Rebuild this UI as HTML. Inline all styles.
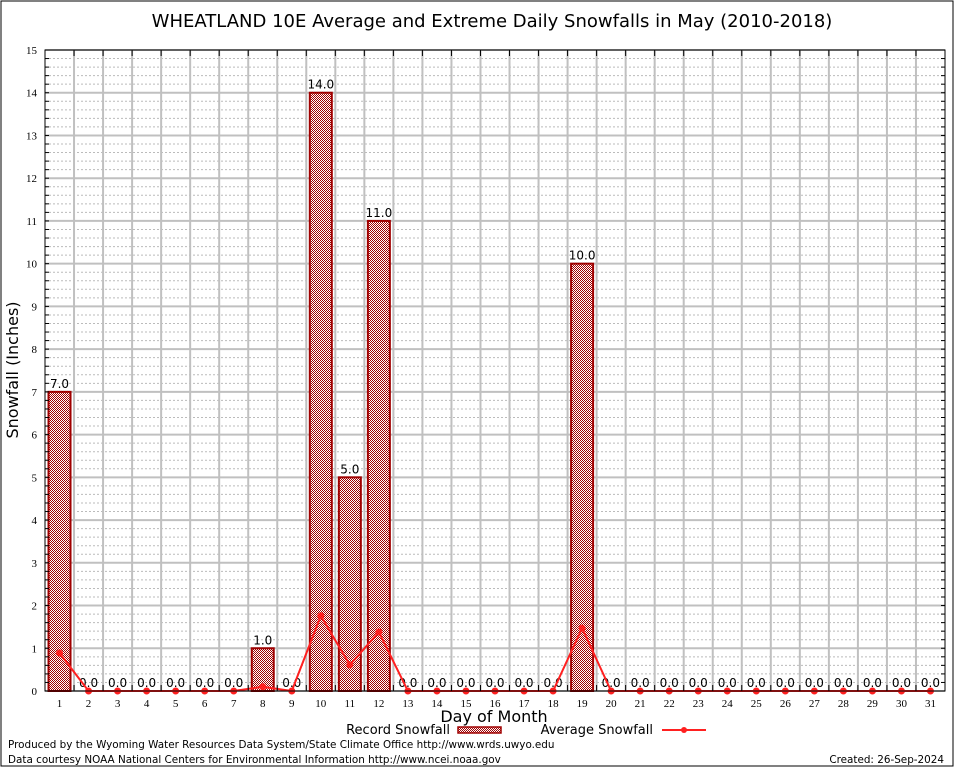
<!DOCTYPE html>
<html><head><meta charset="utf-8"><style>
html,body{margin:0;padding:0;background:#fff;width:954px;height:768px;overflow:hidden}
svg{display:block;font-family:"DejaVu Sans","Liberation Sans",sans-serif}
</style></head><body>
<svg id="chart" width="954" height="768">
<defs>
<pattern id="chk" width="2" height="2" patternUnits="userSpaceOnUse">
<rect width="2" height="2" fill="#fff"/><rect width="1" height="1" fill="#a00000"/><rect x="1" y="1" width="1" height="1" fill="#a00000"/>
</pattern>
</defs>
<rect x="1" y="1" width="952" height="765" fill="#fff" stroke="#000" stroke-width="1"/>
<text x="492" y="27" font-size="18" text-anchor="middle">WHEATLAND 10E Average and Extreme Daily Snowfalls in May (2010-2018)</text>
<g id="grid"></g>
<g id="bars"></g>
<g id="line"></g>
<g id="axes"></g>
<text x="18" y="370" font-size="16" text-anchor="middle" transform="rotate(-90 18 370)">Snowfall (Inches)</text>
<text x="494" y="722" font-size="16" text-anchor="middle">Day of Month</text>
<g>
<text x="450" y="734" font-size="13" text-anchor="end">Record Snowfall</text>
<rect x="458" y="727" width="43" height="6" fill="url(#chk)" stroke="#a00000" stroke-width="1.5"/>
<text x="653" y="734" font-size="13" text-anchor="end">Average Snowfall</text>
<line x1="662" y1="730" x2="706" y2="730" stroke="#ff2020" stroke-width="2"/>
<circle cx="684" cy="730" r="3" fill="#ff2020"/>
</g>
<text x="8" y="748" font-size="10.4">Produced by the Wyoming Water Resources Data System/State Climate Office http://www.wrds.uwyo.edu</text>
<text x="8" y="763" font-size="10.4">Data courtesy NOAA National Centers for Environmental Information http://www.ncei.noaa.gov</text>
<text x="944" y="763" font-size="10.4" text-anchor="end">Created: 26-Sep-2024</text>
</svg>
<script>
const days = [1,2,3,4,5,6,7,8,9,10,11,12,13,14,15,16,17,18,19,20,21,22,23,24,25,26,27,28,29,30,31];
const recordSnow = [7,0,0,0,0,0,0,1,0,14,5,11,0,0,0,0,0,0,10,0,0,0,0,0,0,0,0,0,0,0,0];
const avgSnow = [0.89,0,0,0,0,0,0,0.1,0,1.76,0.61,1.38,0,0,0,0,0,0,1.47,0,0,0,0,0,0,0,0,0,0,0,0];
const yTicks = [0,1,2,3,4,5,6,7,8,9,10,11,12,13,14,15];

const NS='http://www.w3.org/2000/svg';
const L=45,R=945,T=50,B=691,YMAX=15;
const step=(R-L)/days.length;
function xs(d){return L+(d-0.5)*step;}
function ys(v){return B-(v/YMAX)*(B-T);}
function mk(tag,attrs,parent){const e=document.createElementNS(NS,tag);for(const k in attrs)e.setAttribute(k,attrs[k]);parent.appendChild(e);return e;}
const grid=document.getElementById('grid'),bars=document.getElementById('bars'),line=document.getElementById('line'),axes=document.getElementById('axes');

for(let v=0;v<=YMAX;v+=0.2){const y=ys(v);
 const e=mk('line',{x1:L,x2:R,y1:y,y2:y,stroke:'#bbb','stroke-width':1,'stroke-dasharray':'2,2'},grid);
 
 
}
yTicks.forEach(v=>{const y=ys(v);
 const g=mk('line',{x1:L,x2:R,y1:y,y2:y,stroke:'#c0c0c0','stroke-width':2},grid);
 
 
 const t=mk('text',{x:L-8,y:y+4,'font-size':11,'text-anchor':'end','font-family':'Liberation Serif, serif'},axes);
 t.textContent=v;
 
 
});
for(let k=1;k<days.length;k++){const x=L+k*step;
 const g=mk('line',{x1:x,x2:x,y1:T,y2:B,stroke:'#c0c0c0','stroke-width':2},grid);
 
 
 mk('line',{x1:x,x2:x,y1:T,y2:T+6,stroke:'#000'},axes);
 mk('line',{x1:x,x2:x,y1:B,y2:B-6,stroke:'#000'},axes);
}
for(let v=0;v<=YMAX;v+=0.2){const y=ys(v);mk('line',{x1:L,x2:L+4,y1:y,y2:y,stroke:'#000'},axes);mk('line',{x1:R,x2:R-4,y1:y,y2:y,stroke:'#000'},axes);}
const frame=mk('rect',{x:L,y:T,width:R-L,height:B-T,fill:'none',stroke:'#000','stroke-width':1},axes);



days.forEach((d,i)=>{
 const v=recordSnow[i],x=xs(d);
 if(v>0){const b=mk('rect',{x:x-11,y:ys(v),width:22,height:B-ys(v),fill:'url(#chk)',stroke:'#a00000','stroke-width':2},bars);
  
  }
 const lb=mk('text',{x:x,y:ys(v)-4,'font-size':12,'text-anchor':'middle'},bars);
 lb.textContent=v.toFixed(1);
 
 
 const xt=mk('text',{x:x,y:B+16,'font-size':11,'text-anchor':'middle','font-family':'Liberation Serif, serif'},axes);
 xt.textContent=d;
 
 
});
const pts=days.map((d,i)=>xs(d)+','+ys(avgSnow[i])).join(' ');
const pl=mk('polyline',{points:pts,fill:'none',stroke:'#ff2020','stroke-width':2},line);


days.forEach((d,i)=>{const c=mk('circle',{cx:xs(d),cy:ys(avgSnow[i]),r:3.5,fill:'#ff2020'},line);
 
 });
</script>
</body></html>
